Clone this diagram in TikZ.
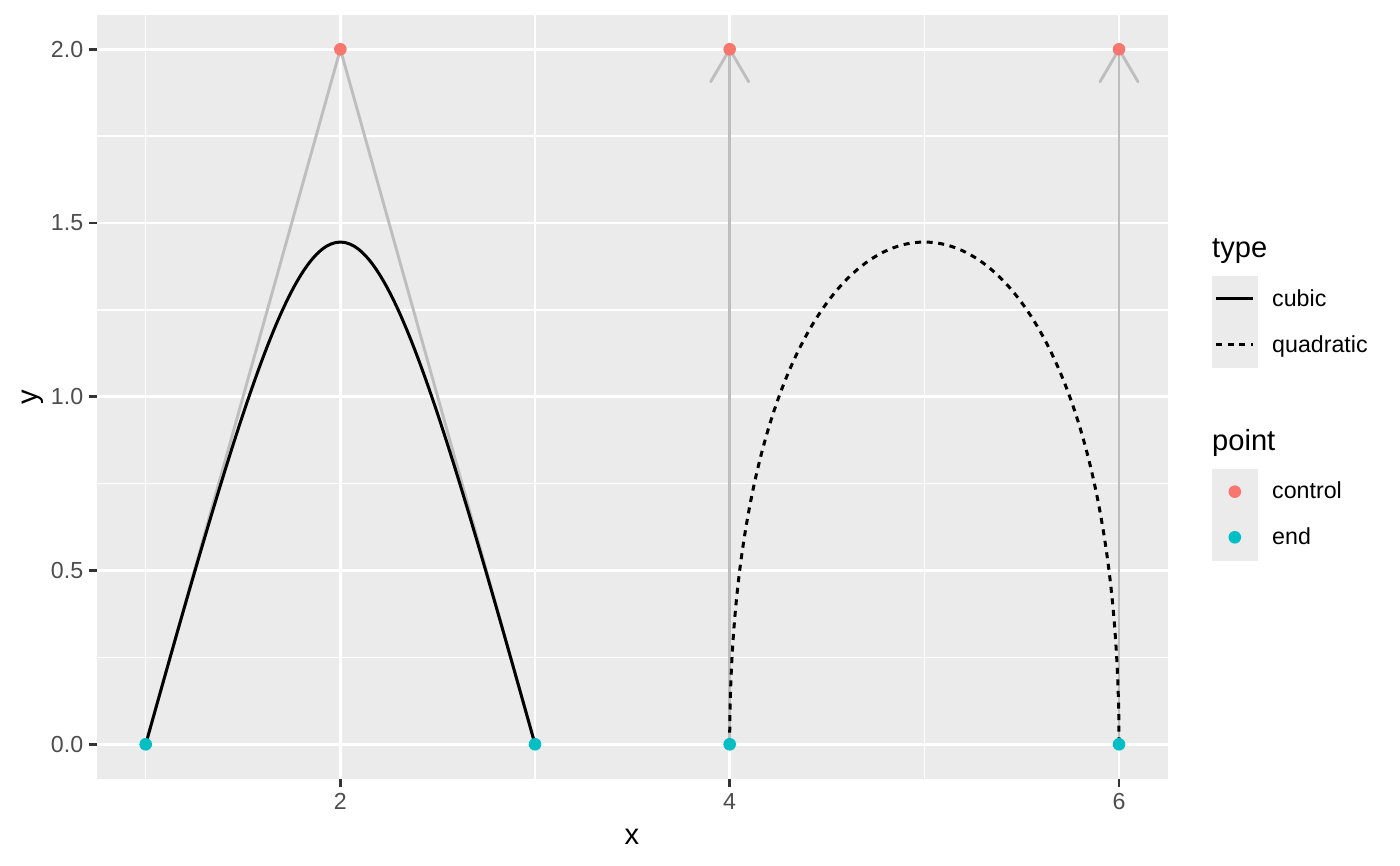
\documentclass[tikz,border=0pt]{standalone}
\usepackage{fontspec}
\setmainfont{Liberation Sans}
\definecolor{panelbg}{HTML}{EBEBEB}
\definecolor{pathgrey}{HTML}{BEBEBE}
\definecolor{ticktext}{HTML}{4D4D4D}
\definecolor{tickline}{HTML}{333333}
\definecolor{ctrlred}{HTML}{F8766D}
\definecolor{endcyan}{HTML}{00BFC4}
\tikzset{
  minorgrid/.style={draw=white, line width=1.5pt},
  majorgrid/.style={draw=white, line width=2.9pt},
  tickmark/.style={draw=tickline, line width=2.9pt},
  ticklabel/.style={text=ticktext, inner sep=0pt, font=\fontsize{23.2}{28}\selectfont},
  axistitle/.style={text=black, inner sep=0pt, font=\fontsize{29.1}{35}\selectfont},
  legtitle/.style={text=black, inner sep=0pt, anchor=base west, font=\fontsize{29.1}{35}\selectfont},
  leglabel/.style={text=black, inner sep=0pt, anchor=base west, font=\fontsize{23.2}{28}\selectfont},
  guide/.style={draw=pathgrey, line width=2.9pt},
  curveline/.style={draw=black, line width=3pt},
  dashline/.style={curveline, dash pattern=on 6pt off 5.6pt},
  ctrlpt/.style={fill=ctrlred},
  endpt/.style={fill=endcyan},
}
\begin{document}
\begin{tikzpicture}[x=1pt,y=1pt]
\useasboundingbox (0,0) rectangle (1400,866);
\fill[white] (0,0) rectangle (1400,866);
% data scope: px = -48.96 + 194.66 x ; page y = 121.7 + 347.5 y
\begin{scope}[shift={(-48.96pt,121.7pt)}, x=194.66pt, y=347.5pt]
  \fill[panelbg] (0.75,-0.1) rectangle (6.25,2.1);
  \foreach \yy in {0.25,0.75,1.25,1.75} \draw[minorgrid] (0.75,\yy) -- (6.25,\yy);
  \foreach \xx in {1,3,5} \draw[minorgrid] (\xx,-0.1) -- (\xx,2.1);
  \foreach \yy in {0,0.5,1,1.5,2} \draw[majorgrid] (0.75,\yy) -- (6.25,\yy);
  \foreach \xx in {2,4,6} \draw[majorgrid] (\xx,-0.1) -- (\xx,2.1);
  % ticks and tick labels
  \foreach \yy/\lab in {0/0.0,0.5/0.5,1/1.0,1.5/1.5,2/2.0} {
    \draw[tickmark] (0.75,\yy) -- ++(-7.6pt,0);
    \node[ticklabel, anchor=east] (yl\lab) at ([xshift=-13.6pt]0.75,\yy) {\lab};
  }
  \foreach \xx in {2,4,6} {
    \draw[tickmark] (\xx,-0.1) -- ++(0,-7.6pt);
    \node[ticklabel, anchor=north] (xl\xx) at ([yshift=-13.8pt]\xx,-0.1) {\xx};
  }
  % data coordinates
  \coordinate (e1) at (1,0);
  \coordinate (c1) at (2,2);
  \coordinate (e2) at (3,0);
  \coordinate (e3) at (4,0);
  \coordinate (c2) at (4,2);
  \coordinate (c3) at (6,2);
  \coordinate (e4) at (6,0);
  % grey guide paths
  \draw[guide, line join=round] (e1) -- (c1) -- (e2);
  \draw[guide] (e3) -- (c2);
  \draw[guide] (e4) -- (c3);
  \draw[guide, line cap=round] ([shift={(-19pt,-32.5pt)}]c2) -- (c2) -- ([shift={(19pt,-32.5pt)}]c2);
  \draw[guide, line cap=round] ([shift={(-19pt,-32.5pt)}]c3) -- (c3) -- ([shift={(19pt,-32.5pt)}]c3);
  % curves
  \draw[curveline] (e1) .. controls (1.963,1.927) and (2.037,1.927) .. (e2);
  \draw[dashline] (e3) .. controls (4,1.927) and (6,1.927) .. (e4);
  % points
  \foreach \p in {c1,c2,c3} \fill[ctrlpt] (\p) circle (6.3pt);
  \foreach \p in {e1,e2,e3,e4} \fill[endpt] (\p) circle (6.3pt);
\end{scope}
% axis titles
\node[axistitle, anchor=base] (xtitle) at (632,21) {x};
\node[axistitle, anchor=base, rotate=90] (ytitle) at (37,469) {y};
% legend: type
\node[legtitle] (typetitle) at (1212,608) {type};
\fill[panelbg] (1212,498.3) rectangle (1257.7,590);
\draw[curveline] (1216,567) -- (1253,567);
\draw[dashline] (1216,521) -- (1253,521);
\node[leglabel] (lcubic) at (1272,559.3) {cubic};
\node[leglabel] (lquad) at (1272,513) {quadratic};
% legend: point
\node[legtitle] (pointtitle) at (1212,415) {point};
\fill[panelbg] (1212,305) rectangle (1257.7,397);
\fill[ctrlpt] (1234.8,374.3) circle (6.3pt);
\fill[endpt] (1234.8,328.7) circle (6.3pt);
\node[leglabel] (lcontrol) at (1272,367) {control};
\node[leglabel] (lend) at (1272,321) {end};
\end{tikzpicture}
\end{document}
